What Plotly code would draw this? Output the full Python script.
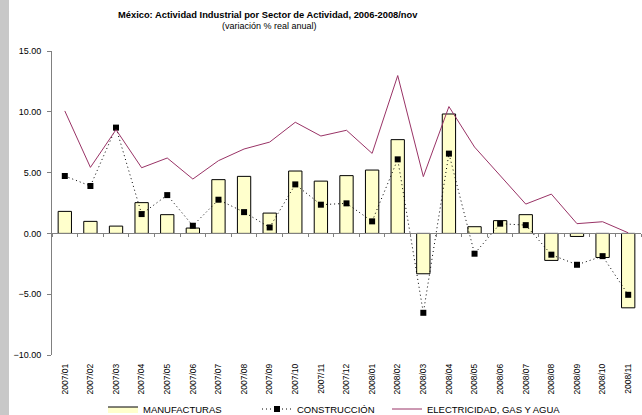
import plotly.graph_objects as go

months = ["2007/01", "2007/02", "2007/03", "2007/04", "2007/05", "2007/06",
          "2007/07", "2007/08", "2007/09", "2007/10", "2007/11", "2007/12",
          "2008/01", "2008/02", "2008/03", "2008/04", "2008/05", "2008/06",
          "2008/07", "2008/08", "2008/09", "2008/10", "2008/11"]

manufacturas = [1.81, 0.99, 0.60, 2.53, 1.54, 0.44, 4.42, 4.69, 1.67, 5.13, 4.30, 4.75,
                5.21, 7.71, -3.32, 9.82, 0.55, 1.05, 1.54, -2.22, -0.25, -1.98, -6.12]

construccion = [4.72, 3.90, 8.70, 1.59, 3.15, 0.63, 2.77, 1.75, 0.49, 4.03, 2.36, 2.47,
                0.99, 6.09, -6.53, 6.56, -1.67, 0.80, 0.68, -1.75, -2.58, -1.87, -5.05]

electricidad = [10.07, 5.43, 8.53, 5.40, 6.20, 4.47, 5.98, 6.94, 7.51, 9.14, 8.01, 8.48,
                6.58, 12.98, 4.67, 10.43, 7.10, 4.80, 2.41, 3.23, 0.80, 0.96, 0.05]

y_ticks = [-10, -5, 0, 5, 10, 15]

FONT = "Liberation Sans, Arial, sans-serif"
W, H = 642, 415
ML, MR, MT, MB = 52, 1, 51, 60
PW = W - ML - MR
PH = H - MT - MB
LEG_Y = -(409 - (MT + PH)) / PH


def leg(px):
    return dict(orientation="h", x=(px - ML) / PW, xanchor="left",
                y=LEG_Y, yanchor="middle",
                font=dict(size=9.5, family=FONT, color="#000000"),
                bgcolor="rgba(0,0,0,0)", borderwidth=0)


fig = go.Figure()

# legend-only entry giving the wide rectangular swatch of the bar series
fig.add_trace(go.Scatter(
    x=[None], y=[None], name="MANUFACTURAS", mode="lines",
    fill="toself", fillcolor="#FFFFCC",
    line=dict(color="#000000", width=1),
    hoverinfo="skip", legend="legend",
))

fig.add_trace(go.Bar(
    x=months, y=manufacturas, name="MANUFACTURAS",
    xaxis="x", yaxis="y", showlegend=False,
    width=0.52,
    marker=dict(color="#FFFFCC", line=dict(color="#000000", width=1)),
))

fig.add_trace(go.Scatter(
    x=months, y=construccion, name="CONSTRUCCIÓN",
    xaxis="x2", yaxis="y", legend="legend2",
    mode="lines+markers",
    line=dict(color="#000000", width=1, dash="1px,3px"),
    marker=dict(symbol="square", size=6, color="#000000"),
))

fig.add_trace(go.Scatter(
    x=months, y=electricidad, name="ELECTRICIDAD, GAS Y AGUA",
    xaxis="x2", yaxis="y", legend="legend3",
    mode="lines",
    line=dict(color="#993366", width=1),
))

fig.update_layout(
    width=W, height=H,
    margin=dict(l=ML, r=MR, t=MT, b=MB, pad=0, autoexpand=False),
    paper_bgcolor="white", plot_bgcolor="white",
    font=dict(family=FONT, size=9, color="#000000"),
    showlegend=True,
    xaxis=dict(
        type="category", categoryorder="array", categoryarray=months,
        range=[-0.5, len(months) - 0.5],
        showline=False, showgrid=False, zeroline=False,
        ticks="", tickangle=-90,
        tickfont=dict(size=8.5, family=FONT),
        ticklabelstandoff=6,
    ),
    xaxis2=dict(
        type="category", categoryorder="array", categoryarray=months,
        range=[-0.5, len(months) - 0.5],
        overlaying="x", anchor="free", position=0.4,
        showline=True, linecolor="#808080", linewidth=1,
        showgrid=False, zeroline=False,
        ticks="outside", ticklen=3, tickcolor="#808080", tickson="boundaries",
        showticklabels=False,
    ),
    yaxis=dict(
        range=[-10, 15], tickvals=y_ticks, tickformat=".2f",
        showline=True, linecolor="#808080", linewidth=1,
        showgrid=False, zeroline=False,
        ticks="outside", ticklen=4, tickcolor="#808080",
        tickfont=dict(size=9, family=FONT),
        ticklabelstandoff=4,
    ),
    legend=leg(103),
    legend2=leg(257),
    legend3=leg(387),
    annotations=[
        dict(text="<b>México: Actividad Industrial por Sector de Actividad, 2006-2008/nov</b>",
             x=(268 - ML) / PW, y=1 + (MT - 15) / PH, xref="paper", yref="paper",
             xanchor="center", yanchor="middle", showarrow=False,
             font=dict(size=9.33, family=FONT, color="#000000")),
        dict(text="(variación % real anual)",
             x=(269 - ML) / PW, y=1 + (MT - 26) / PH, xref="paper", yref="paper",
             xanchor="center", yanchor="middle", showarrow=False,
             font=dict(size=9, family=FONT, color="#000000")),
    ],
    shapes=[
        dict(type="rect", xref="paper", yref="paper",
             x0=(0 - ML) / PW, x1=(9 - ML) / PW,
             y0=-MB / PH, y1=1 + MT / PH,
             fillcolor="#C8C8C8", line=dict(width=0), layer="below"),
    ],
)

fig.write_html("out.html", config={"displayModeBar": False},
               post_script="document.body.style.margin='0';document.body.style.overflow='hidden';")
